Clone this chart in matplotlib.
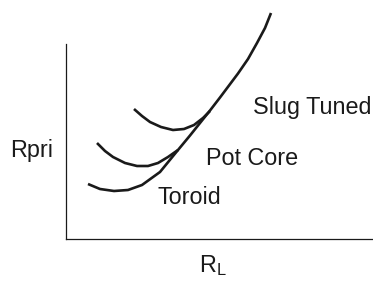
import matplotlib
matplotlib.use("Agg")
import matplotlib.pyplot as plt

# curve points (arbitrary units, origin at the axes corner)
toroid_x = [22, 34, 48, 62, 76, 94, 112, 124, 134, 144, 154, 163, 172, 182, 191, 199, 205]
toroid_y = [55, 50, 48, 49, 54, 67, 89, 103.5, 116, 128.5, 141.5, 153.5, 165.5, 180, 196, 211, 226]

pot_x = [31, 39, 47, 59, 71, 82, 92, 102, 112]
pot_y = [96, 88, 82, 76, 73, 73, 76, 82, 89]

slug_x = [68, 76, 84, 95, 107, 118, 128, 137, 144]
slug_y = [130, 123, 117, 112, 109, 110, 114, 121, 128]

labels = ["Toroid", "Pot Core", "Slug Tuned"]
label_x = [91, 140, 187]
label_y = [35, 74, 125]

plt.rcParams['font.family'] = ['Liberation Sans', 'DejaVu Sans']

fig = plt.figure(figsize=(3.73, 2.81), dpi=100)
ax = fig.add_axes([66/373, 42/281, 307/373, 195/281])
ax.set_xlim(0, 307)
ax.set_ylim(0, 195)

ink = '#1a1a1a'
for xs, ys in [(toroid_x, toroid_y), (pot_x, pot_y), (slug_x, slug_y)]:
    ax.plot(xs, ys, color=ink, lw=1.9, clip_on=False,
            solid_capstyle='butt', solid_joinstyle='round')

for name, lx, ly in zip(labels, label_x, label_y):
    ax.text(lx, ly, name, fontsize=16.8, color=ink, va='baseline', ha='left')

ax.spines['top'].set_visible(False)
ax.spines['right'].set_visible(False)
for s in ['left', 'bottom']:
    ax.spines[s].set_linewidth(0.9)
    ax.spines[s].set_color(ink)
ax.set_xticks([])
ax.set_yticks([])

fig.text(10/373, 1 - 157/281, "Rpri", fontsize=16.8, color=ink, va='baseline', ha='left')
fig.text(199/373, 1 - 272/281, r"R$_\mathregular{L}$", fontsize=16.8, color=ink,
         va='baseline', ha='left')

fig.savefig("out.png", dpi=100)
